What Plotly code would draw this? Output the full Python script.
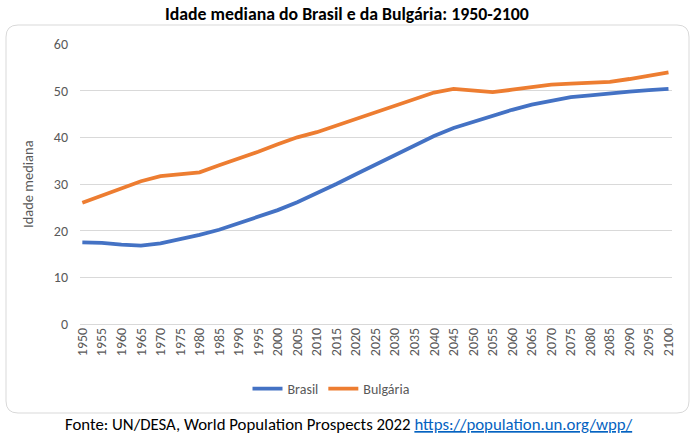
import plotly.graph_objects as go

years = list(range(1950, 2101, 5))
brasil = [17.5, 17.4, 17.0, 16.8, 17.3, 18.1, 19.1, 20.2, 21.6, 22.9, 24.4, 26.1, 28.0, 30.0, 32.1,
          34.2, 36.3, 38.4, 40.3, 42.0, 43.3, 44.7, 45.9, 47.0, 47.9, 48.6, 49.0, 49.5, 49.8, 50.1, 50.4]
bulgaria = [26.0, 27.6, 29.2, 30.6, 31.7, 32.0, 32.5, 34.0, 35.4, 36.9, 38.5, 40.0, 41.1, 42.5, 44.1,
            45.3, 46.8, 48.3, 49.6, 50.4, 50.0, 49.7, 50.2, 50.8, 51.3, 51.5, 51.6, 51.9, 52.5, 53.1, 53.9]
tick_years = list(range(1950, 2101, 5))

FONT = "Calibri, Carlito, Lato, sans-serif"
GRAY = "#595959"

fig = go.Figure()
fig.add_trace(go.Scatter(x=years, y=brasil, mode="lines", name="Brasil",
                         line=dict(color="#4472C4", width=3.8)))
fig.add_trace(go.Scatter(x=years, y=bulgaria, mode="lines", name="Bulgária",
                         line=dict(color="#ED7D31", width=3.8)))

W, H = 692, 437
L, R, T, B = 80, 20, 44, 113
pw, ph = W - L - R, H - T - B

def px(x):
    return (x - L) / pw

def py(y):
    return (H - B - y) / ph

# rounded chart-area border
x0, x1, y0, y1 = px(6), px(689), py(25), py(413)
rx, ry = 12 / pw, 12 / ph
path = (f"M {x0+rx},{y0} L {x1-rx},{y0} Q {x1},{y0} {x1},{y0-ry} "
        f"L {x1},{y1+ry} Q {x1},{y1} {x1-rx},{y1} L {x0+rx},{y1} "
        f"Q {x0},{y1} {x0},{y1+ry} L {x0},{y0-ry} Q {x0},{y0} {x0+rx},{y0} Z")

fig.update_layout(
    width=W, height=H,
    margin=dict(l=L, r=R, t=T, b=B),
    paper_bgcolor="white", plot_bgcolor="white",
    font=dict(family=FONT, color=GRAY, size=12),
    showlegend=True,
    legend=dict(orientation="h", x=px(331), xanchor="center", y=py(389), yanchor="middle",
                font=dict(family=FONT, size=14, color=GRAY), itemwidth=30,
                bgcolor="rgba(0,0,0,0)"),
    shapes=[dict(type="path", path=path, xref="paper", yref="paper",
                 line=dict(color="#D9D9D9", width=1), layer="below")],
    annotations=[
        dict(text="<b>Idade mediana do Brasil e da Bulgária: 1950-2100</b>",
             x=px(347), y=py(14), xref="paper", yref="paper", showarrow=False,
             xanchor="center", yanchor="middle",
             font=dict(family=FONT, size=17.8, color="black")),
        dict(text="Idade mediana", textangle=-90,
             x=px(28), y=py(184), xref="paper", yref="paper", showarrow=False,
             xanchor="center", yanchor="middle",
             font=dict(family=FONT, size=14.5, color=GRAY)),
        dict(text="Fonte: UN/DESA, World Population Prospects 2022 "
                  "<span style='color:#0563C1;text-decoration:underline'>https://population.un.org/wpp/</span>",
             x=px(63), y=py(424), xref="paper", yref="paper", showarrow=False,
             xanchor="left", yanchor="middle",
             font=dict(family=FONT, size=16.8, color="black")),
    ],
)
fig.update_xaxes(range=[1949.4, 2100.9], tickvals=tick_years, ticktext=[str(t) for t in tick_years],
                 tickangle=-90, showgrid=False, zeroline=False, showline=False, ticks="",
                 tickfont=dict(family=FONT, size=14, color=GRAY))
fig.update_yaxes(range=[0, 60], dtick=10, showgrid=True, gridcolor="#D9D9D9", gridwidth=1,
                 zeroline=True, zerolinecolor="#D9D9D9", zerolinewidth=1, showline=False,
                 ticks="", ticklabelstandoff=11,
                 tickfont=dict(family=FONT, size=14, color=GRAY))

fig.write_html("out.html", config={"displayModeBar": False},
               post_script="document.body.style.margin='0px';")
